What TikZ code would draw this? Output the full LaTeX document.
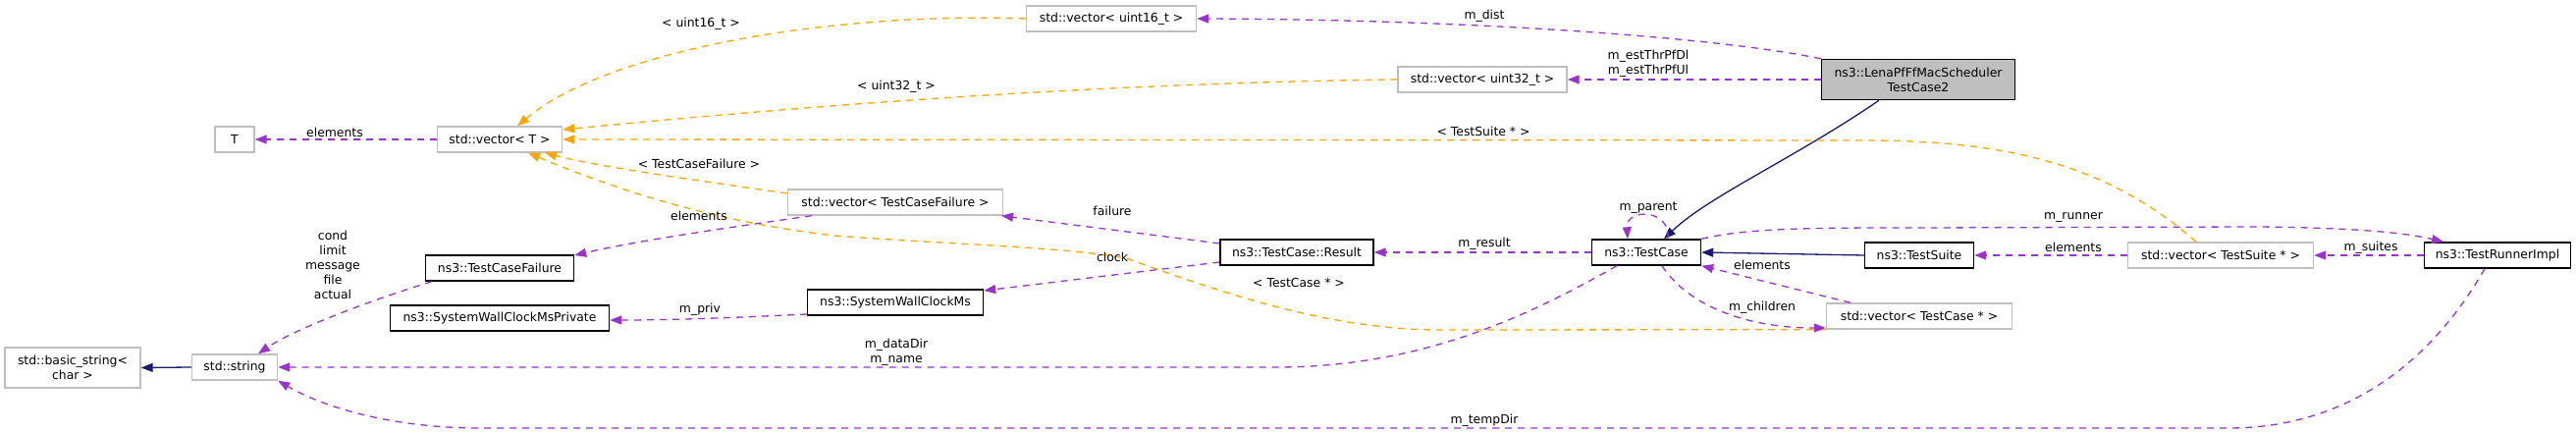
\documentclass[tikz,border=0pt]{standalone}
\usepackage{fontspec}
\setmainfont{DejaVu Sans}
\usetikzlibrary{arrows.meta}
\definecolor{memberpurple}{HTML}{9A32CD}
\definecolor{tmplorange}{HTML}{FFA500}
\definecolor{basenavy}{HTML}{191970}
\definecolor{boxgrey}{HTML}{BFBFBF}

\begin{document}
\begin{tikzpicture}[x=1pt,y=-1pt,
    font=\fontsize{12.4}{15}\selectfont,
    cls/.style={draw=black,line width=1.4pt,fill=white,inner sep=0pt,minimum height=26pt,align=center},
    ext/.style={cls,draw=boxgrey},
    lbl/.style={inner sep=0pt,align=center},
    usage/.style={draw=memberpurple,line width=1.3pt,dash pattern=on 7pt off 6pt,-{Triangle[length=12pt,width=9pt]}},
    tmpl/.style={usage,draw=tmplorange,-{Triangle[length=12pt,width=9pt]}},
    inherit/.style={draw=basenavy,line width=1.3pt,-{Triangle[length=12pt,width=9pt]}}]
  \useasboundingbox (0,0) rectangle (2624,441);

  \node[cls,fill=boxgrey,minimum width=197,minimum height=41] (lena) at (1954,81) {ns3::LenaPfFfMacScheduler\\TestCase2};
  \node[ext,minimum width=173] (vec16) at (1132,19) {std::vector< uint16\_t >};
  \node[ext,minimum width=172] (vec32) at (1510,81) {std::vector< uint32\_t >};
  \node[ext,minimum width=40] (T) at (239,142) {T};
  \node[ext,minimum width=127] (vecT) at (509,142) {std::vector< T >};
  \node[ext,minimum width=219] (vecTCF) at (912,206) {std::vector< TestCaseFailure >};
  \node[cls,minimum width=151] (tcf) at (509,273) {ns3::TestCaseFailure};
  \node[cls,minimum width=223] (swcp) at (509,324) {ns3::SystemWallClockMsPrivate};
  \node[cls,minimum width=179] (swc) at (912,308) {ns3::SystemWallClockMs};
  \node[cls,minimum width=156] (result) at (1321,257) {ns3::TestCase::Result};
  \node[cls,minimum width=111] (testcase) at (1677,257) {ns3::TestCase};
  \node[cls,minimum width=111] (testsuite) at (1955,260) {ns3::TestSuite};
  \node[ext,minimum width=189] (vecTC) at (1955,322) {std::vector< TestCase * >};
  \node[ext,minimum width=189] (vecTS) at (2262,260) {std::vector< TestSuite * >};
  \node[cls,minimum width=149] (runner) at (2544,260) {ns3::TestRunnerImpl};
  \node[ext,minimum width=87] (string) at (239,374) {std::string};
  \node[ext,minimum width=138,minimum height=41] (basic) at (74,374.5) {std::basic\_string<\\char >};

  \draw[usage] (lena.north west) .. controls (1750,38) and (1500,20) .. (vec16.east);
  \draw[usage] (lena.west) -- (vec32.east);
  \draw[inherit] ([xshift=-40pt]lena.south) .. controls (1830,160) and (1740,200) .. ([xshift=18pt]testcase.north);
  \draw[tmpl] (vec16.west) .. controls (850,12) and (620,50) .. ([xshift=18pt]vecT.north);
  \draw[tmpl] (vec32.west) .. controls (1100,85) and (800,110) .. ([yshift=10pt]vecT.east);
  \draw[tmpl] ([xshift=-25pt]vecTS.north) .. controls (2150,170) and (2050,143) .. (1900,143) -- (vecT.east);
  \draw[tmpl] ([yshift=9pt]vecTCF.west) .. controls (720,185) and (610,170) .. ([xshift=46pt]vecT.south);
  \draw[tmpl] (vecTC.south west) -- (1460,336) .. controls (1350,334) and (1250,300) .. (1150,264)
    .. controls (1100,252) and (950,248) .. (850,240) .. controls (720,225) and (620,190) .. ([xshift=29pt]vecT.south);
  \draw[usage] (vecT.west) -- (T.east);
  \draw[usage] ([xshift=-85pt]vecTCF.south) .. controls (740,232) and (650,245) .. ([yshift=13pt]tcf.east);
  \draw[usage] ([xshift=-69pt]tcf.south) .. controls (380,305) and (300,335) .. ([xshift=24pt]string.north);
  \draw[usage] ([yshift=9pt]result.west) -- ([xshift=108pt]vecTCF.south);
  \draw[usage] ([yshift=-10pt]result.west) -- ([yshift=12pt]swc.east);
  \draw[usage] ([yshift=-12pt]swc.west) .. controls (740,324) and (680,326) .. ([yshift=-2pt]swcp.east);
  \draw[usage] (testcase.west) -- (result.east);
  \draw[usage] ([xshift=22pt]testcase.north) .. controls (1702,212) and (1656,212) .. ([xshift=-19pt]testcase.north);
  \draw[usage] ([xshift=-30pt]testcase.south) .. controls (1560,320) and (1450,374) .. (1300,374) -- (string.east);
  \draw[usage] ([xshift=16pt]testcase.south) .. controls (1720,312) and (1780,334) .. ([yshift=-12pt]vecTC.west);
  \draw[usage] ([xshift=-70pt]vecTC.north) -- (testcase.south east);
  \draw[inherit] (testsuite.west) -- (testcase.east);
  \draw[usage] (vecTS.west) -- (testsuite.east);
  \draw[usage] (runner.west) -- (vecTS.east);
  \draw[usage] (testcase.north east) .. controls (1780,232) and (1850,232) .. (1950,232) -- (2300,231)
    .. controls (2400,232) and (2450,237) .. ([xshift=-55pt]runner.north);
  \draw[usage] ([xshift=-13pt]runner.south) .. controls (2470,380) and (2380,436) .. (2270,436) -- (490,436)
    .. controls (400,436) and (330,415) .. (string.south east);
  \draw[inherit] (string.west) -- (basic.east);

  \node[lbl] (l-dist) at (1512,16) {m\_dist};
  \node[lbl] (l-estthr) at (1679,65) {m\_estThrPfDl\\m\_estThrPfUl};
  \node[lbl] (l-u16) at (714,24) {< uint16\_t >};
  \node[lbl] (l-u32) at (913,88) {< uint32\_t >};
  \node[lbl] (l-ts) at (1511,134) {< TestSuite * >};
  \node[lbl] (l-tcf) at (712,167) {< TestCaseFailure >};
  \node[lbl] (l-tc) at (1323,288) {< TestCase * >};
  \node[lbl] (l-elemT) at (341,135) {elements};
  \node[lbl] (l-elemTCF) at (712,220) {elements};
  \node[lbl] (l-fields) at (339,270) {cond\\limit\\message\\file\\actual};
  \node[lbl] (l-failure) at (1133,215) {failure};
  \node[lbl] (l-clock) at (1133,262) {clock};
  \node[lbl] (l-priv) at (713,315) {m\_priv};
  \node[lbl] (l-result) at (1512,248) {m\_result};
  \node[lbl] (l-parent) at (1679,212) {m\_parent};
  \node[lbl] (l-datadir) at (913,359) {m\_dataDir\\m\_name};
  \node[lbl] (l-children) at (1795,313) {m\_children};
  \node[lbl] (l-elemTC) at (1795,270) {elements};
  \node[lbl] (l-elemTS) at (2112,252) {elements};
  \node[lbl] (l-suites) at (2415,252) {m\_suites};
  \node[lbl] (l-runner) at (2112,221) {m\_runner};
  \node[lbl] (l-tempdir) at (1512,428) {m\_tempDir};
\end{tikzpicture}
\end{document}
